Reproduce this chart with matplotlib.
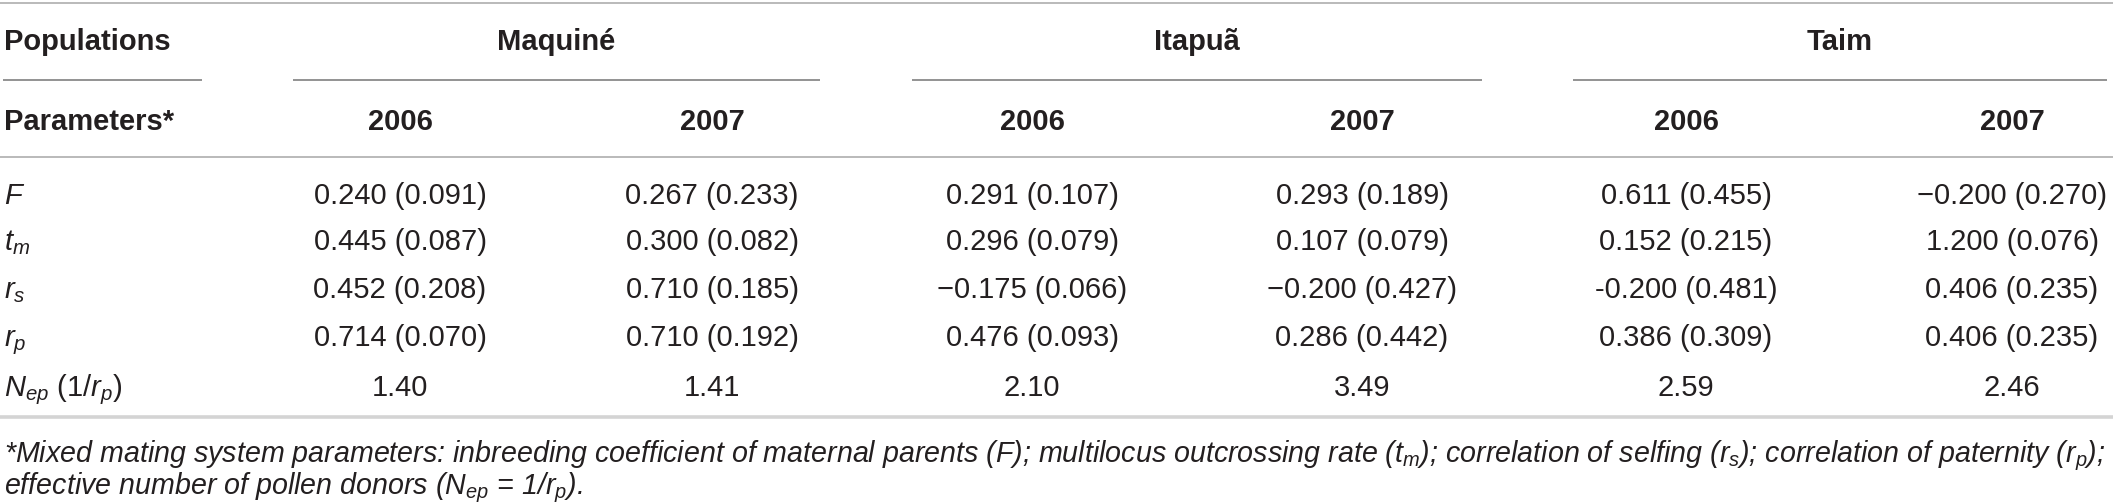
import matplotlib
matplotlib.use("Agg")
import matplotlib.pyplot as plt

plt.rcParams['font.family'] = ['Liberation Sans', 'DejaVu Sans']
plt.rcParams['mathtext.fontset'] = 'custom'
plt.rcParams['mathtext.rm'] = 'Liberation Sans'
plt.rcParams['mathtext.it'] = 'Liberation Sans:italic'
plt.rcParams['mathtext.bf'] = 'Liberation Sans:bold'

populations = ["Maquiné", "Itapuã", "Taim"]
years = ["2006", "2007", "2006", "2007", "2006", "2007"]
param_labels = [r"$F$", r"$t_m$", r"$r_s$", r"$r_p$", r"$N_{ep}$ (1/$r_p$)"]
row_F = ["0.240 (0.091)", "0.267 (0.233)", "0.291 (0.107)", "0.293 (0.189)", "0.611 (0.455)", "\u22120.200 (0.270)"]
row_tm = ["0.445 (0.087)", "0.300 (0.082)", "0.296 (0.079)", "0.107 (0.079)", "0.152 (0.215)", "1.200 (0.076)"]
row_rs = ["0.452 (0.208)", "0.710 (0.185)", "\u22120.175 (0.066)", "\u22120.200 (0.427)", "-0.200 (0.481)", "0.406 (0.235)"]
row_rp = ["0.714 (0.070)", "0.710 (0.192)", "0.476 (0.093)", "0.286 (0.442)", "0.386 (0.309)", "0.406 (0.235)"]
row_Nep = ["1.40", "1.41", "2.10", "3.49", "2.59", "2.46"]
rows = [row_F, row_tm, row_rs, row_rp, row_Nep]
footnote1 = ("*Mixed mating system parameters: inbreeding coefficient of maternal parents ($F$); "
             "multilocus outcrossing rate ($t_m$); correlation of selfing ($r_s$); correlation of paternity ($r_p$);")
footnote2 = "effective number of pollen donors ($N_{ep}$ = 1/$r_p$)."

W, H = 2113, 504
fig = plt.figure(figsize=(W / 100, H / 100), dpi=100)
ax = fig.add_axes([0, 0, 1, 1])
ax.set_xlim(0, W)
ax.set_ylim(H, 0)
ax.axis('off')

TXT = '#231f20'
RULE = '#b4b4b4'
col_x = [400, 712, 1032, 1362, 1686, 2012]
grp_x = [556, 1197, 1840]
grp_lines = [(293, 820), (912, 1482), (1573, 2107)]
hdr_fs = 21
dat_fs = 21
foot_fs = 20.6

# rules
ax.plot([0, W], [3, 3], color=RULE, lw=1.3, solid_capstyle='butt')
ax.plot([3, 202], [80, 80], color='#8a8a8a', lw=1.3, solid_capstyle='butt')
for a, b in grp_lines:
    ax.plot([a, b], [80, 80], color='#8a8a8a', lw=1.3, solid_capstyle='butt')
ax.plot([0, W], [157, 157], color=RULE, lw=1.3, solid_capstyle='butt')
ax.plot([0, W], [417, 417], color='#d4d4d4', lw=2.6, solid_capstyle='butt')

# header rows
ax.text(4, 40 + 10.5, "Populations", fontsize=hdr_fs, fontweight='bold', color=TXT, ha='left', va='baseline')
for g, x in zip(populations, grp_x):
    ax.text(x, 40 + 10.5, g, fontsize=hdr_fs, fontweight='bold', color=TXT, ha='center', va='baseline')
ax.text(4, 120 + 10.5, "Parameters*", fontsize=hdr_fs, fontweight='bold', color=TXT, ha='left', va='baseline')
for y, x in zip(years, col_x):
    ax.text(x, 120 + 10.5, y, fontsize=hdr_fs, fontweight='bold', color=TXT, ha='center', va='baseline')

# data rows
row_y = [193, 240, 288, 336, 386]
for lab, vals, y in zip(param_labels, rows, row_y):
    ax.text(4, y + 10.5, lab, fontsize=dat_fs, color=TXT, ha='left', va='baseline')
    for v, x in zip(vals, col_x):
        ax.text(x, y + 10.5, v, fontsize=dat_fs, color=TXT, ha='center', va='baseline')

ax.text(4, 453 + 9.5, footnote1, fontsize=foot_fs, style='italic', color=TXT, ha='left', va='baseline')
ax.text(4, 485 + 9.5, footnote2, fontsize=foot_fs, style='italic', color=TXT, ha='left', va='baseline')

fig.savefig("out.png", dpi=100, facecolor='white')
